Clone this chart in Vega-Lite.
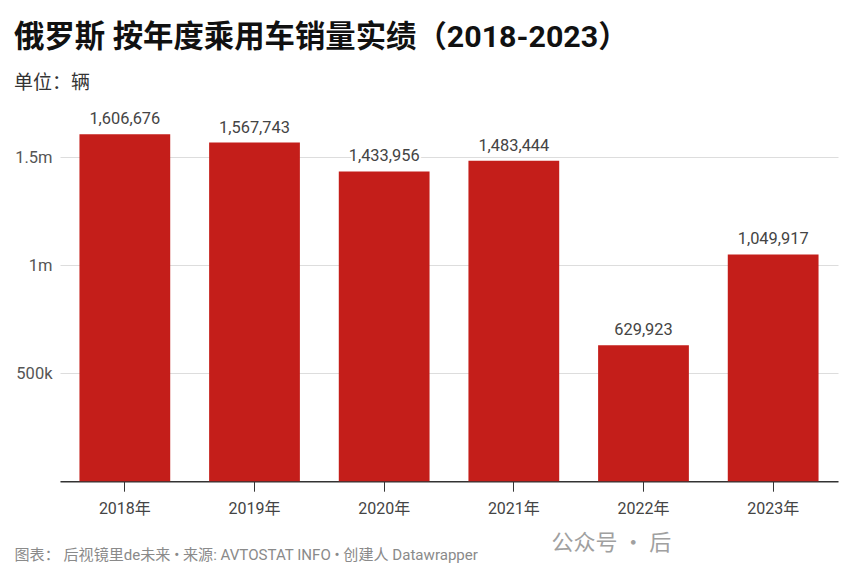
{
  "$schema": "https://vega.github.io/schema/vega-lite/v6.json",
  "description": "Russia passenger car sales by year, 2018-2023",
  "width": 778,
  "height": 367.2,
  "autosize": {"type": "none"},
  "padding": {"left": 60, "top": 114, "right": 14, "bottom": 96},
  "background": "#ffffff",
  "title": {
    "text": "俄罗斯 按年度乘用车销量实绩（2018-2023）",
    "subtitle": "单位：辆",
    "anchor": "start",
    "frame": "group",
    "dx": -46,
    "offset": 18,
    "font": "Roboto, Noto Sans CJK SC",
    "fontSize": 30.4,
    "fontWeight": "bold",
    "color": "#111111",
    "subtitleFont": "Roboto, Noto Sans CJK SC",
    "subtitleFontSize": 19,
    "subtitleColor": "#333333",
    "subtitlePadding": 21
  },
  "data": {
    "values": [
      {"year": "2018年", "sales": 1606676},
      {"year": "2019年", "sales": 1567743},
      {"year": "2020年", "sales": 1433956},
      {"year": "2021年", "sales": 1483444},
      {"year": "2022年", "sales": 629923},
      {"year": "2023年", "sales": 1049917}
    ]
  },
  "encoding": {
    "x": {
      "field": "year",
      "type": "ordinal",
      "scale": {"paddingInner": 0.3, "paddingOuter": 0.15},
      "axis": {
        "title": "图表： 后视镜里de未来 • 来源: AVTOSTAT INFO • 创建人 Datawrapper",
        "titleFont": "Roboto, Noto Sans CJK SC",
        "titleFontSize": 15.1,
        "titleFontWeight": "normal",
        "titleColor": "#8a8a8a",
        "titleAnchor": "start",
        "titleAlign": "left",
        "titleBaseline": "alphabetic",
        "titleX": -46,
        "titleY": 78,
        "labelAngle": 0,
        "labelFont": "Roboto, Noto Sans CJK SC",
        "labelFontSize": 16,
        "labelColor": "#444444",
        "labelPadding": 9,
        "tickSize": 10,
        "tickColor": "#333333",
        "domainColor": "#333333",
        "domainWidth": 1.5
      }
    },
    "y": {
      "field": "sales",
      "type": "quantitative",
      "scale": {"domain": [0, 1700000], "nice": false},
      "axis": {
        "values": [0, 500000, 1000000, 1500000],
        "labelExpr": "datum.value === 0 ? '' : replace(format(datum.value, '~s'), 'M', 'm')",
        "title": "公众号 · 后",
        "titleFont": "Noto Sans CJK SC",
        "titleFontSize": 22,
        "titleFontWeight": "normal",
        "titleColor": "#a0a0a0",
        "titleAngle": 0,
        "titleAlign": "left",
        "titleBaseline": "alphabetic",
        "titleX": 491,
        "titleY": 436,
        "labelFont": "Roboto",
        "labelFontSize": 16.5,
        "labelColor": "#555555",
        "labelPadding": 8,
        "ticks": false,
        "domain": false,
        "gridColor": "#dddddd",
        "gridWidth": 1
      }
    }
  },
  "layer": [
    {"mark": {"type": "bar", "color": "#c41e1a"}},
    {
      "mark": {
        "type": "text",
        "baseline": "bottom",
        "dy": -7,
        "font": "Roboto",
        "fontSize": 16.4,
        "stroke": "#ffffff",
        "strokeWidth": 4
      },
      "encoding": {"text": {"field": "sales", "type": "quantitative", "format": ","}}
    },
    {
      "mark": {
        "type": "text",
        "baseline": "bottom",
        "dy": -7,
        "font": "Roboto",
        "fontSize": 16.4,
        "color": "#444444"
      },
      "encoding": {"text": {"field": "sales", "type": "quantitative", "format": ","}}
    }
  ],
  "config": {"view": {"stroke": null}}
}
